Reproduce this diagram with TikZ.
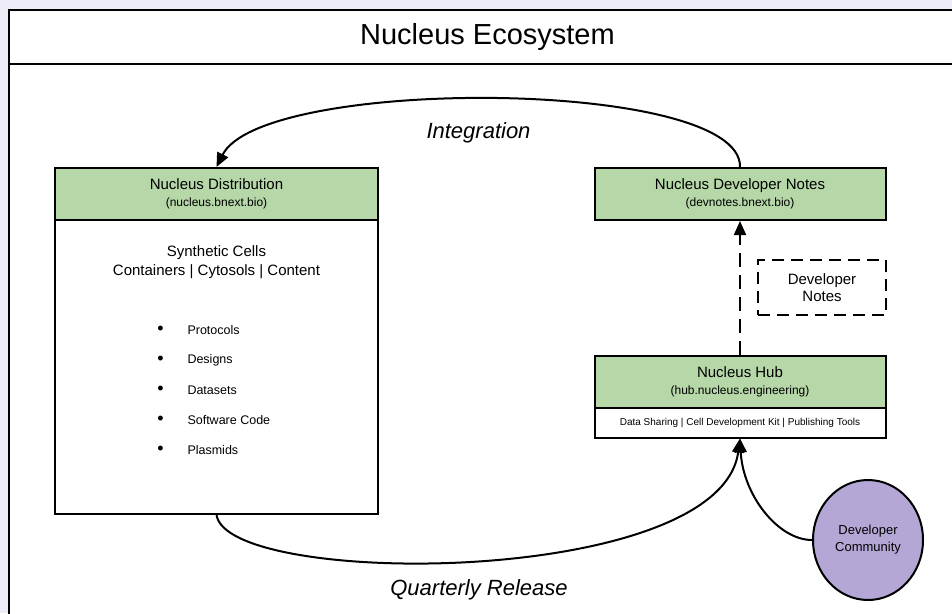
\documentclass[tikz,border=0pt]{standalone}
\usepackage{fontspec}
\setmainfont{Liberation Sans}
\usetikzlibrary{arrows.meta,shapes.geometric}

\definecolor{bglav}{RGB}{238,237,247}
\definecolor{hdrgreen}{RGB}{182,215,168}
\definecolor{commpurple}{RGB}{180,167,214}

\tikzset{every picture/.style={line width=2pt}}
\tikzset{
  hdrbox/.style={draw, fill=hdrgreen, inner sep=0pt, align=center, minimum height=52pt,
    font=\fontsize{15}{16.5}\selectfont},
  bodybox/.style={draw, fill=white, inner sep=0pt},
  notebox/.style={draw, dash pattern=on 12pt off 7pt, inner sep=0pt, align=center,
    minimum width=128pt, minimum height=55pt, font=\fontsize{15}{17}\selectfont},
  commcircle/.style={ellipse, draw, fill=commpurple, inner sep=0pt, align=center,
    minimum width=110pt, minimum height=120pt, font=\fontsize{13}{17}\selectfont},
  flow/.style={-{Triangle[length=14pt,width=12pt]}},
  lbl/.style={inner sep=0pt, font=\fontsize{22}{24}\selectfont\itshape}
}

\begin{document}
\begin{tikzpicture}[x=1pt,y=1pt,yscale=-1,xscale=1]
      \useasboundingbox (0,0) rectangle (952,613);
      \clip (0,0) rectangle (952,613);
      \fill[bglav] (0,0) rectangle (952,613);

      %Shape: Frame
      \draw[fill=white] (9,630) -- (9,10) -- (966,10) -- (966,630) ;
      \draw (9,64) -- (966,64) ;
      % Text Node
      \node[inner sep=0pt, font=\fontsize{29}{31}\selectfont] (title) at (487.5,37) {Nucleus Ecosystem};

      %Shape: Distribution box
      \node[bodybox, minimum width=323pt, minimum height=294pt] (distbody) at (216.5,366.5) {};
      \node[hdrbox, minimum width=323pt] (dist) at (216.5,194) {Nucleus Distribution\\{\fontsize{12}{16.5}\selectfont(nucleus.bnext.bio)}};
      % Text Node
      \node[inner sep=0pt, align=center, font=\fontsize{15}{18.5}\selectfont] (cells) at (216.5,262) {Synthetic Cells\\Containers | Cytosols | Content};
      % Bullet list
      \foreach \itemtxt [count=\i] in {Protocols, Designs, Datasets, Software Code, Plasmids} {
        \node[inner sep=0pt, font=\fontsize{18}{20}\selectfont] (bul\i) at (160.5,300.5+30*\i) {\textbullet};
        \node[anchor=west, inner sep=0pt, font=\fontsize{12.5}{14}\selectfont] (item\i) at (186.5,300.5+30*\i) {\itemtxt};
      }

      %Shape: Developer Notes box
      \node[hdrbox, minimum width=291pt] (devnotes) at (740,194) {Nucleus Developer Notes\\{\fontsize{12}{16.5}\selectfont(devnotes.bnext.bio)}};

      %Shape: Dashed box
      \node[notebox] (notes) at (822,287.5) {Developer\\Notes};

      %Shape: Hub box
      \node[hdrbox, minimum width=291pt] (hub) at (740,382) {Nucleus Hub\\{\fontsize{12}{16.5}\selectfont(hub.nucleus.engineering)}};
      \node[bodybox, minimum width=291pt, minimum height=30pt, font=\fontsize{10}{12}\selectfont] (hubtools) at (740,422.5) {Data Sharing | Cell Development Kit | Publishing Tools};

      %Shape: Circle
      \node[commcircle] (community) at (868,540) {Developer\\Community};

      %Curves
      \draw[flow] (devnotes.north) .. controls (742,78) and (262,76) .. (dist.north) ;
      \draw[flow] (distbody.south) .. controls (225,588) and (720,588) .. (hubtools.south) ;
      \draw[flow] (community.west) .. controls (778,540) and (743,495) .. (hubtools.south) ;
      \draw[flow, dash pattern=on 14pt off 8pt] (hub.north) -- (devnotes.south) ;

      % Text Node
      \node[lbl] (integration) at (478.5,133) {Integration};
      % Text Node
      \node[lbl] (release) at (479,590) {Quarterly Release};
\end{tikzpicture}
\end{document}
